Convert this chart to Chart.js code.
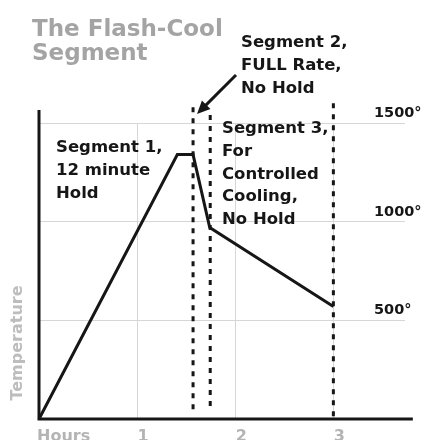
<!DOCTYPE html>
<html>
<head>
<meta charset="utf-8">
<title>The Flash-Cool Segment</title>
<script src="https://cdn.jsdelivr.net/npm/chart.js@4.4.0/dist/chart.umd.min.js"></script>
<style>
  html, body { margin: 0; padding: 0; background: #fff; }
  #wrap { width: 428px; height: 440px; position: relative; }
</style>
</head>
<body>
<div id="wrap"><canvas id="chart"></canvas></div>
<script>
/* ---- data ---- */
const hours = [0, 1.41, 1.57, 1.74, 3.0];
const temps = [0, 1340, 1340, 970, 570];

// dotted segment boundaries (x in hours, top / bottom in degrees)
const boundHours  = [1.57, 1.745, 3.0];
const boundTop    = [1580, 1540, 1600];
const boundBottom = [35, 45, 0];

// axis extents (the drawn axis lines run past the grid)
const axisMaxHours = 3.81;
const axisMaxTemp  = 1566;

const xTickValues = [0, 1, 2, 3];
const xTickLabels = ["Hours", "1", "2", "3"];
const yTickValues = [500, 1000, 1500];
const yTickLabels = ["500°", "1000°", "1500°"];

const titleLines = ["The Flash-Cool", "Segment"];
const seg1Lines = ["Segment 1,", "12 minute", "Hold"];
const seg2Lines = ["Segment 2,", "FULL Rate,", "No Hold"];
const seg3Lines = ["Segment 3,", "For", "Controlled", "Cooling,", "No Hold"];
const yTitle = "Temperature";

/* ---- helpers ---- */
const INK = "#161616";
const GREY = "#a4a4a4";
const BOLD = (px) => `bold ${px}px "DejaVu Sans", sans-serif`;

function lines(ctx, arr, x, y0, step) {
  arr.forEach((t, i) => ctx.fillText(t, x, y0 + i * step));
}

const datasets = [
  {
    label: "Temperature",
    data: hours.map((h, i) => ({ x: h, y: temps[i] })),
    borderColor: INK,
    borderWidth: 3,
    pointRadius: 0,
    tension: 0,
    clip: false,
  },
  // axis lines
  {
    data: [{ x: 0, y: axisMaxTemp }, { x: 0, y: 0 }, { x: axisMaxHours, y: 0 }],
    borderColor: INK,
    borderWidth: 3,
    pointRadius: 0,
    borderJoinStyle: "miter",
    clip: false,
  },
];

boundHours.forEach((h, i) => {
  datasets.push({
    data: [{ x: h, y: boundTop[i] }, { x: h, y: boundBottom[i] }],
    borderColor: INK,
    borderWidth: 3,
    borderDash: [5, 6],
    pointRadius: 0,
    clip: false,
  });
});

/* ---- texts, arrow and tick labels ---- */
const labelsPlugin = {
  id: "labels",
  afterDraw(chart) {
    const { ctx, scales } = chart;
    const xs = scales.x, ys = scales.y;
    ctx.save();

    // title
    ctx.fillStyle = GREY;
    ctx.font = BOLD(23);
    ctx.textAlign = "left";
    ctx.textBaseline = "alphabetic";
    lines(ctx, titleLines, 32, 36, 24);

    // segment notes
    ctx.fillStyle = INK;
    ctx.font = BOLD(16.5);
    lines(ctx, seg1Lines, 56, 152, 23);
    lines(ctx, seg2Lines, 241, 47, 23);
    lines(ctx, seg3Lines, 222, 133, 22.8);

    // arrow to segment 2
    const tx = 236, ty = 75, hx = 197, hy = 114;
    const ang = Math.atan2(hy - ty, hx - tx);
    ctx.strokeStyle = INK;
    ctx.lineWidth = 3;
    ctx.beginPath();
    ctx.moveTo(tx, ty);
    ctx.lineTo(hx - Math.cos(ang) * 8, hy - Math.sin(ang) * 8);
    ctx.stroke();
    ctx.beginPath();
    ctx.moveTo(hx, hy);
    ctx.lineTo(hx - Math.cos(ang) * 13 + Math.sin(ang) * 6, hy - Math.sin(ang) * 13 - Math.cos(ang) * 6);
    ctx.lineTo(hx - Math.cos(ang) * 13 - Math.sin(ang) * 6, hy - Math.sin(ang) * 13 + Math.cos(ang) * 6);
    ctx.closePath();
    ctx.fill();

    // y tick labels (right side, above the grid lines)
    ctx.font = BOLD(14.5);
    yTickValues.forEach((v, i) => {
      ctx.fillText(yTickLabels[i], 374, ys.getPixelForValue(v) - 6);
    });

    // x tick labels
    ctx.fillStyle = "#b4b4b4";
    ctx.font = BOLD(16);
    xTickValues.forEach((v, i) => {
      const px = xs.getPixelForValue(v);
      if (i === 0) {
        ctx.textAlign = "left";
        ctx.fillText(xTickLabels[i], px - 2, 441);
      } else {
        ctx.textAlign = "center";
        ctx.fillText(xTickLabels[i], px + 6, 441);
      }
    });

    // y title
    ctx.fillStyle = "#bdbdbd";
    ctx.font = BOLD(16);
    ctx.translate(18, 343);
    ctx.rotate(-Math.PI / 2);
    ctx.textAlign = "center";
    ctx.textBaseline = "middle";
    ctx.fillText(yTitle, 0, 0);

    ctx.restore();
  },
};

new Chart(document.getElementById("chart"), {
  type: "line",
  data: { datasets },
  options: {
    responsive: true,
    maintainAspectRatio: false,
    animation: false,
    layout: { padding: { left: 39, right: 23, top: 123, bottom: 21 } },
    plugins: { legend: { display: false }, tooltip: { enabled: false } },
    scales: {
      x: {
        type: "linear",
        min: 0,
        max: 3.73,
        afterBuildTicks: (s) => { s.ticks = [1, 2, 3].map((v) => ({ value: v })); },
        ticks: { display: false },
        grid: { color: "#d6d6d6", lineWidth: 1, drawTicks: false },
        border: { display: false },
      },
      y: {
        min: 0,
        max: 1500,
        afterBuildTicks: (s) => { s.ticks = yTickValues.map((v) => ({ value: v })); },
        ticks: { display: false },
        grid: { color: "#d6d6d6", lineWidth: 1, drawTicks: false },
        border: { display: false },
      },
    },
  },
  plugins: [labelsPlugin],
});
</script>
</body>
</html>
